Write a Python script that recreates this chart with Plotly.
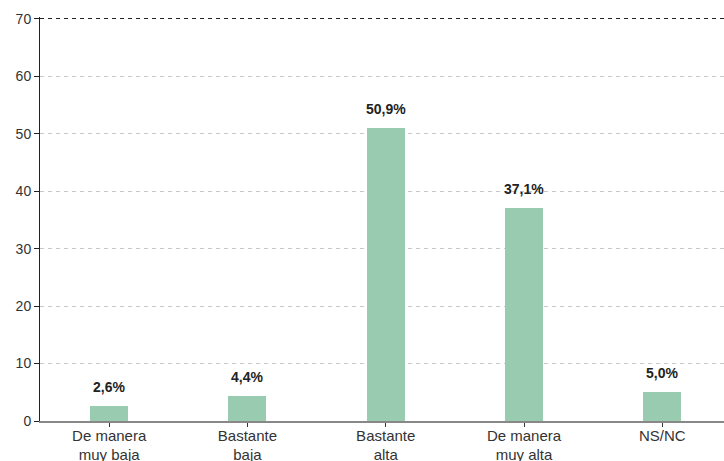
import plotly.graph_objects as go

categories = ["De manera<br>muy baja", "Bastante<br>baja", "Bastante<br>alta", "De manera<br>muy alta", "NS/NC"]
values = [2.6, 4.4, 50.9, 37.1, 5.0]
labels = ["2,6%", "4,4%", "50,9%", "37,1%", "5,0%"]
y_ticks = [0, 10, 20, 30, 40, 50, 60, 70]

fig = go.Figure()
fig.add_trace(go.Bar(
    x=list(range(len(categories))), y=values,
    marker=dict(color="#99cbb0", line=dict(width=0)),
    width=0.275, hoverinfo="skip",
))
for i, (v, t) in enumerate(zip(values, labels)):
    fig.add_annotation(x=i, y=v, text="<b>" + t + "</b>", showarrow=False,
                       yshift=19, font=dict(size=14, color="#222"))

# invisible trace to carry the top dashed line axis
fig.add_trace(go.Scatter(x=[0], y=[0], yaxis="y2", mode="markers",
                         marker=dict(opacity=0), hoverinfo="skip", showlegend=False))

yr = [0, 70.3]
fig.update_layout(
    width=724, height=461,
    margin=dict(l=40, r=0, t=17, b=40, autoexpand=False),
    paper_bgcolor="white", plot_bgcolor="white",
    showlegend=False, bargap=0,
    font=dict(family="Liberation Sans, Arial, sans-serif", color="#333", size=14),
    xaxis=dict(
        range=[-0.5, 4.446], automargin=False,
        tickmode="array", tickvals=list(range(len(categories))), ticktext=categories,
        tickson="boundaries", ticks="outside", ticklen=4, tickcolor="#333",
        ticklabelstandoff=-4,
        showline=True, linecolor="#888", linewidth=1.5,
        showgrid=False, zeroline=False, tickfont=dict(size=15, color="#333"),
    ),
    yaxis=dict(
        range=yr, tickvals=y_ticks, automargin=False,
        ticks="outside", ticklen=5, tickcolor="#222",
        showline=True, linecolor="#222", linewidth=1,
        showgrid=True, gridcolor="#c8c8c8", griddash="4px,4px", gridwidth=1,
        zeroline=False, tickfont=dict(size=14, color="#333"),
    ),
    yaxis2=dict(
        overlaying="y", range=yr, tickvals=[y_ticks[-1]], showticklabels=False,
        showgrid=True, gridcolor="#222", griddash="4px,4px", gridwidth=1,
        zeroline=False, showline=False, ticks="", automargin=False,
    ),
)

fig.write_html("out.html", config={"displayModeBar": False},
               post_script="document.body.style.margin='0';document.body.style.overflow='hidden';")
